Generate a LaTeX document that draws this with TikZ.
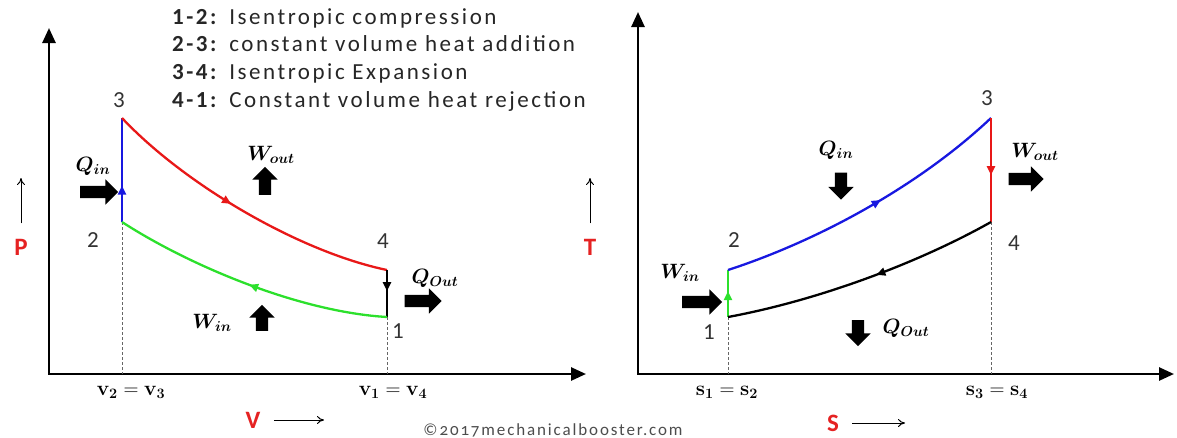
\documentclass[tikz,border=0pt]{standalone}
\usepackage[no-math]{fontspec}
\setmainfont{Carlito}
\newfontfamily\legendfont[LetterSpace=11]{Carlito}
\newfontfamily\creditfont[Numbers=OldStyle,LetterSpace=11]{Carlito}
\usepackage{bm}
\definecolor{cycred}{HTML}{E81818}
\definecolor{cycblue}{HTML}{1818E0}
\definecolor{cycgreen}{HTML}{2CE02C}
\definecolor{namered}{HTML}{E52222}
\usetikzlibrary{arrows.meta, decorations.markings, shapes.arrows, positioning}

\begin{document}
\begin{tikzpicture}[x=1pt, y=-1pt,
    axis/.style={line width=2.6pt, {Triangle[length=15pt,width=13pt]}-{Triangle[length=15pt,width=13pt]}},
    guide/.style={line width=0.7pt, black!60, dash pattern=on 3pt off 2pt},
    process/.style={line width=2.3pt},
    midarrow/.style={postaction={decorate}, decoration={markings,
        mark=at position #1 with {\arrow{Triangle[length=9pt,width=8pt]}}}},
    fatarrow/.style={single arrow, fill=black, inner sep=6pt,
        single arrow head extend=6.5pt, minimum height=#1},
    statenum/.style={font=\fontsize{23}{23}\selectfont, text=black!80},
    ticklabel/.style={font=\fontsize{20}{20}\selectfont},
    heatlabel/.style={font=\fontsize{22}{22}\selectfont},
    axisname/.style={font=\bfseries\fontsize{25}{25}\selectfont, text=namered},
    thinarrow/.style={line width=1pt, -{To[length=7pt,width=8pt]}}
  ]
  \useasboundingbox (0,0) rectangle (1177,437);

  % legend of the four processes
  \node[anchor=north west, align=left, inner sep=0pt, text=black!85,
        font=\legendfont\fontsize{23}{27.8}\selectfont] (legend) at (172,8)
    {\textbf{1-2:} Isentropic compression\\
     \textbf{2-3:} constant volume heat addition\\
     \textbf{3-4:} Isentropic Expansion\\
     \textbf{4-1:} Constant volume heat rejection};

  % ---------------- P-v diagram ----------------
  \coordinate (oL) at (49,374);
  \coordinate (pTop) at (49,28);
  \coordinate (vEnd) at (586,374);
  \draw[axis] (pTop) -- (oL) -- (vEnd);

  \coordinate (L1) at (387,317);
  \coordinate (L2) at (122,222);
  \coordinate (L3) at (122,118);
  \coordinate (L4) at (387,270);

  \draw[guide] (L2) -- (L2 |- oL);
  \draw[guide] (L1) -- (L1 |- oL);

  \draw[process, cycblue, midarrow=0.35] (L2) -- (L3);
  \draw[process, cycred, midarrow=0.45] (L3) .. controls (185,185) and (300,252) .. (L4);
  \draw[process, black, midarrow=0.45] (L4) -- (L1);
  \draw[process, cycgreen, midarrow=0.5] (L1) .. controls (300,312) and (190,266) .. (L2);

  \node[statenum] (numL3) at (119,100) {3};
  \node[statenum] (numL2) at (93,240) {2};
  \node[statenum] (numL4) at (383,241) {4};
  \node[statenum] (numL1) at (398,331) {1};

  \node[ticklabel] (tickL23) at (131,392) {$\mathbf{v_2 = v_3}$};
  \node[ticklabel] (tickL14) at (393,392) {$\mathbf{v_1 = v_4}$};

  % heat and work arrows
  \node[fatarrow=38pt] (qinL) at (96,192) {};
  \node[heatlabel] (qinLtext) at (93,166) {$\bm{Q_{in}}$};
  \node[fatarrow=28pt, rotate=90] (woutL) at (265,184) {};
  \node[heatlabel] (woutLtext) at (271,155) {$\bm{W_{out}}$};
  \node[fatarrow=26pt, rotate=90] (winL) at (262,321) {};
  \node[heatlabel] (winLtext) at (212,323) {$\bm{W_{in}}$};
  \node[fatarrow=37pt] (qoutL) at (420,301) {};
  \node[heatlabel] (qoutLtext) at (435,278) {$\bm{Q_{Out}}$};

  % axis names
  \node[axisname] (pname) at (21,247) {P};
  \coordinate (ptip) at (21,178);
  \draw[thinarrow, shorten <=12pt] (pname) -- (ptip);
  \node[axisname] (vname) at (253,420) {V};
  \coordinate (vtip) at (324,420);
  \draw[thinarrow, shorten <=10pt] (vname) -- (vtip);

  % ---------------- T-s diagram ----------------
  \coordinate (oR) at (638,374);
  \coordinate (tTop) at (638,12);
  \coordinate (sEnd) at (1174,374);
  \draw[axis] (tTop) -- (oR) -- (sEnd);

  \coordinate (R1) at (728,317);
  \coordinate (R2) at (728,270);
  \coordinate (R3) at (991,118);
  \coordinate (R4) at (991,222);

  \draw[guide] (R1) -- (R1 |- oR);
  \draw[guide] (R4) -- (R4 |- oR);

  \draw[process, cycgreen, midarrow=0.55] (R1) -- (R2);
  \draw[process, cycblue, midarrow=0.55] (R2) .. controls (820,240) and (920,185) .. (R3);
  \draw[process, cycred, midarrow=0.55] (R3) -- (R4);
  \draw[process, black, midarrow=0.45] (R4) .. controls (920,262) and (820,300) .. (R1);

  \node[statenum] (numR3) at (987,98) {3};
  \node[statenum] (numR2) at (734,240) {2};
  \node[statenum] (numR4) at (1014,243) {4};
  \node[statenum] (numR1) at (709,332) {1};

  \node[ticklabel] (tickR12) at (727,392) {$\mathbf{s_1 = s_2}$};
  \node[ticklabel] (tickR34) at (997,392) {$\mathbf{s_3 = s_4}$};

  % heat and work arrows
  \node[fatarrow=27pt, rotate=-90] (qinR) at (841,183) {};
  \node[heatlabel] (qinRtext) at (836,150) {$\bm{Q_{in}}$};
  \node[fatarrow=35pt] (woutR) at (1023,179) {};
  \node[heatlabel] (woutRtext) at (1035,152) {$\bm{W_{out}}$};
  \node[fatarrow=40pt] (winR) at (699,302) {};
  \node[heatlabel] (winRtext) at (680,273) {$\bm{W_{in}}$};
  \node[fatarrow=26pt, rotate=-90] (qoutR) at (858,330) {};
  \node[heatlabel] (qoutRtext) at (906,328) {$\bm{Q_{Out}}$};

  % axis names
  \node[axisname] (tname) at (590,247) {T};
  \coordinate (ttip) at (590,178);
  \draw[thinarrow, shorten <=12pt] (tname) -- (ttip);
  \node[axisname] (sname) at (833,423) {S};
  \coordinate (stip) at (905,423);
  \draw[thinarrow, shorten <=10pt] (sname) -- (stip);

  % source line
  \node[font=\creditfont\fontsize{17}{17}\selectfont, text=black!70] (credit) at (553,430)
    {©2017mechanicalbooster.com};
\end{tikzpicture}
\end{document}
